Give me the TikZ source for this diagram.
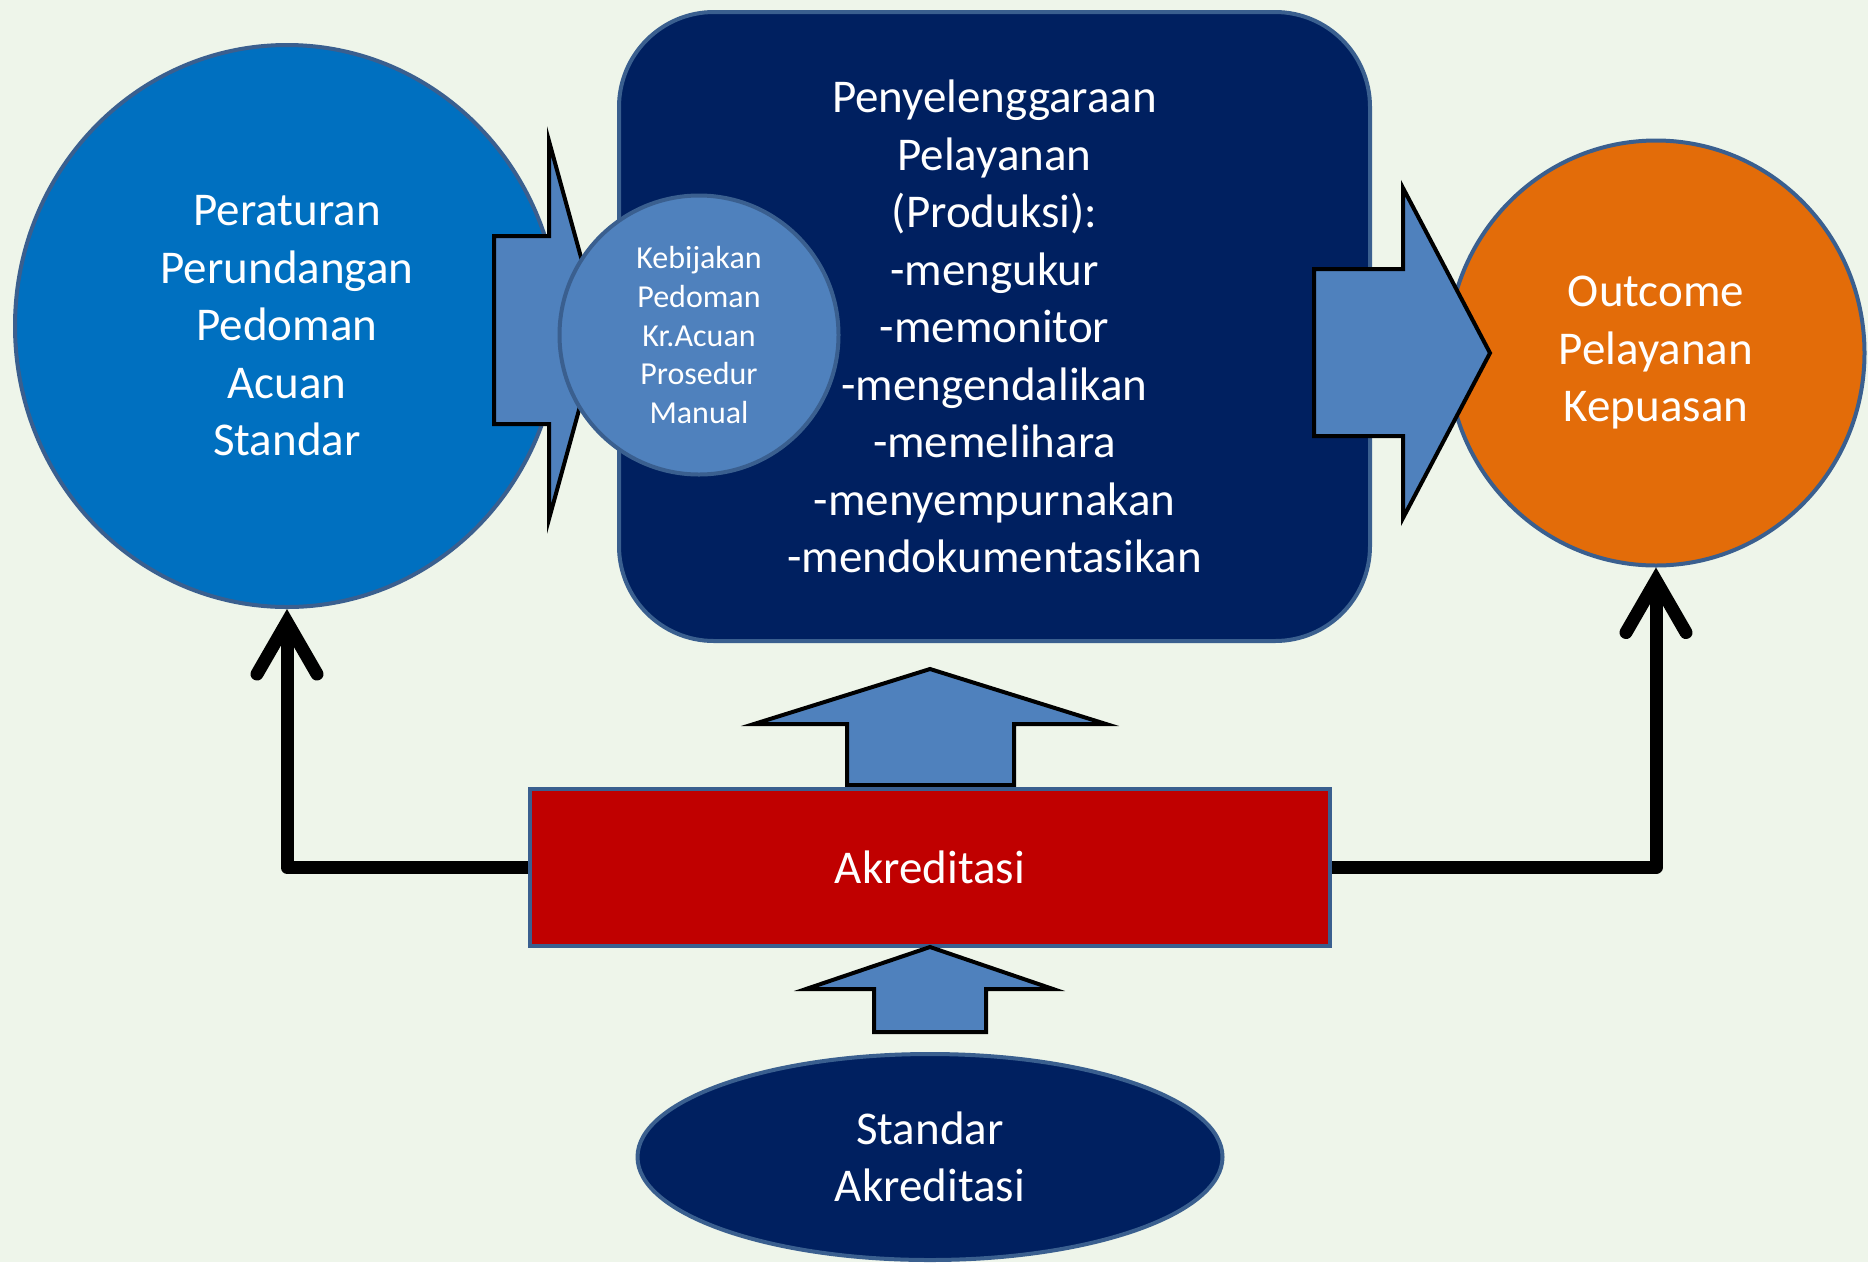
\documentclass[tikz,border=0pt]{standalone}
\usepackage{fontspec}
\setmainfont{Carlito}
\usepackage{tikz}
\usetikzlibrary{arrows.meta, shapes.geometric}

\definecolor{bgmint}{RGB}{238,245,234}
\definecolor{rimblue}{RGB}{58,95,143}
\definecolor{officeblue}{RGB}{0,112,192}
\definecolor{navy}{RGB}{0,32,96}
\definecolor{steelblue}{RGB}{79,129,189}
\definecolor{pumpkin}{RGB}{227,108,9}
\definecolor{deepred}{RGB}{192,0,0}

\begin{document}
\begin{tikzpicture}[x=1pt, y=-1pt,
	every node/.style={text=white, align=center, inner sep=0pt},
	blob/.style={draw=rimblue, line width=4pt},
	bigfont/.style={font=\fontsize{47}{57.5}\selectfont},
	smallfont/.style={font=\fontsize{32}{38.7}\selectfont},
	fatarrow/.style={draw=black, line width=4pt, fill=steelblue, line join=miter},
	link/.style={-{Straight Barb[length=52pt, width=60pt, line cap=round, line join=miter]}, line width=13pt, line join=round}]
		\fill[bgmint] (0,0) rectangle (1868,1262);
		\useasboundingbox (0,0) rectangle (1868,1262);
		
		\node[blob, ellipse, fill=officeblue, minimum width=544pt, minimum height=562pt, bigfont] (peraturan) at (287,326) {Peraturan\\Perundangan\\Pedoman\\Acuan\\Standar};
		\draw[fatarrow] (494,236) -- (549,236) -- (549,141) -- (601,330) -- (549,519) -- (549,424) -- (494,424) -- cycle;
		
		\node[blob, rounded corners=95pt, fill=navy, minimum width=751pt, minimum height=629pt, bigfont] (layanan) at (994.5,326.5) {Penyelenggaraan\\Pelayanan\\(Produksi):\\-mengukur\\-memonitor\\-mengendalikan\\-memelihara\\-menyempurnakan\\-mendokumentasikan};
		\node[blob, circle, fill=steelblue, minimum size=279pt, smallfont] (kebijakan) at (699,335) {Kebijakan\\Pedoman\\Kr.Acuan\\Prosedur\\Manual};
		
		\node[blob, ellipse, fill=pumpkin, minimum width=417pt, minimum height=425pt, bigfont] (outcome) at (1656,353) {Outcome\\Pelayanan\\Kepuasan};
		\draw[fatarrow] (1314,269) -- (1403,269) -- (1403,188) -- (1490,353) -- (1403,518) -- (1403,436) -- (1314,436) -- cycle;
		
		\draw[fatarrow] (847,785) -- (847,724) -- (754,724) -- (930,669) -- (1106,724) -- (1014,724) -- (1014,785) -- cycle;
		\node[blob, fill=deepred, minimum width=800pt, minimum height=157pt, bigfont] (akreditasi) at (930,867.5) {Akreditasi};
		\draw[fatarrow] (874,1032) -- (874,989) -- (806,989) -- (930,947) -- (1053,989) -- (986,989) -- (986,1032) -- cycle;
		
		\node[blob, ellipse, fill=navy, minimum width=585pt, minimum height=206pt, bigfont] (standar) at (930,1157) {Standar\\Akreditasi};
		
		\draw[link] (akreditasi.west) -| (peraturan.south);
		\draw[link] (akreditasi.east) -| (outcome.south);
	\end{tikzpicture}
\end{document}
